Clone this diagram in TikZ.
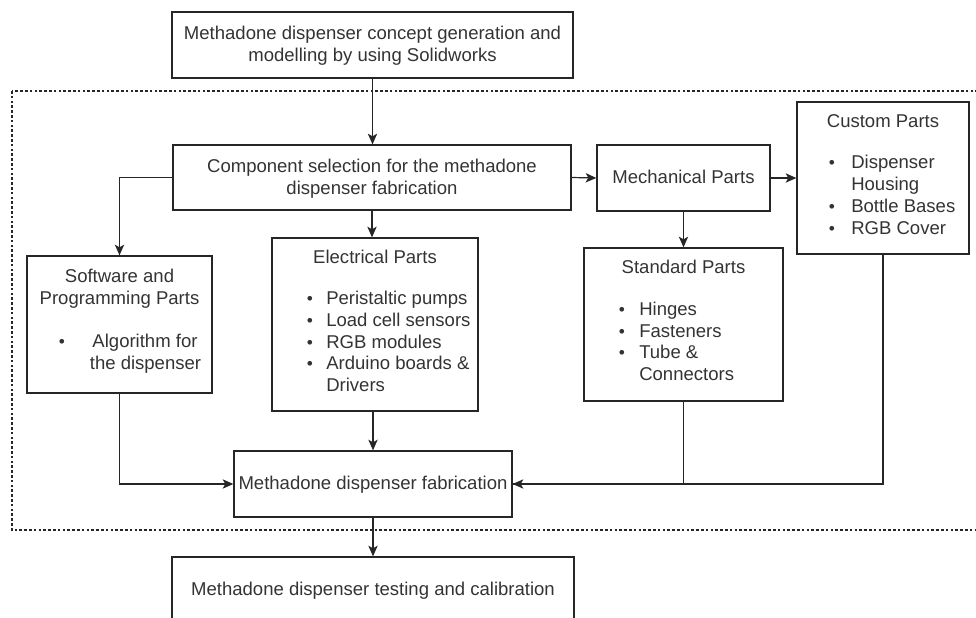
\documentclass[tikz,border=0pt]{standalone}
\usepackage{fontspec}
\setmainfont{Liberation Sans}
\usetikzlibrary{fit,arrows.meta}
\begin{document}
\begin{tikzpicture}[x=0.75pt,y=-0.75pt,
  box/.style={draw=black!85, line width=1pt, inner sep=0pt},
  txt/.style={inner sep=0pt, yshift=-1.5pt, font=\fontsize{13.9}{16.6}\selectfont, text=black!80},
  lbl/.style={txt, anchor=mid},
  item/.style={txt, anchor=mid west},
  dot/.style={txt, anchor=mid, font=\fontsize{13}{15}\selectfont},
  conn/.style={draw=black!85, line width=0.9pt},
  arr/.style={conn, -{Stealth[length=8pt,width=7pt,inset=2pt]}},
  frame/.style={draw=black!85, line width=0.9pt, dash pattern=on 2pt off 1.6pt}
]
\clip (0,0) rectangle (976,618);

% dotted boundary of the fabrication stage
\draw[frame] (12,91) rectangle (992,530);

% boxes
\node[box, fit={(172,12) (573,78)}]   (top)  {};
\node[box, fit={(173,145) (571,210)}] (comp) {};
\node[box, fit={(597,145) (770,211)}] (mech) {};
\node[box, fit={(797,102) (969,254)}] (cust) {};
\node[box, fit={(584,248) (783,401)}] (std)  {};
\node[box, fit={(27,256) (212,393)}]  (soft) {};
\node[box, fit={(272,238) (478,411)}] (elec) {};
\node[box, fit={(234,451) (512,517)}] (fab)  {};
\node[box, fit={(172,557) (574,640)}] (test) {};

% box texts
\node[lbl] (topA) at (372.5,34) {Methadone dispenser concept generation and};
\node[lbl] (topB) at (372.5,56) {modelling by using Solidworks};

\node[lbl] (compA) at (372,167) {Component selection for the methadone};
\node[lbl] (compB) at (372,189) {dispenser fabrication};

\node[lbl] (mechA) at (683.5,178) {Mechanical Parts};

\node[lbl] (custA) at (883,122) {Custom Parts};
\node[dot] (custD1) at (832,163) {\textbullet};
\node[item] (custI1) at (851,163) {Dispenser};
\node[item] (custI2) at (851,185) {Housing};
\node[dot] (custD3) at (832,207) {\textbullet};
\node[item] (custI3) at (851,207) {Bottle Bases};
\node[dot] (custD4) at (832,229) {\textbullet};
\node[item] (custI4) at (851,229) {RGB Cover};

\node[lbl] (stdA) at (683.5,268) {Standard Parts};
\node[dot] (stdD1) at (622,310) {\textbullet};
\node[item] (stdI1) at (639,310) {Hinges};
\node[dot] (stdD2) at (622,332) {\textbullet};
\node[item] (stdI2) at (639,332) {Fasteners};
\node[dot] (stdD3) at (622,353) {\textbullet};
\node[item] (stdI3) at (639,353) {Tube \&};
\node[item] (stdI4) at (639,375) {Connectors};

\node[lbl] (elecA) at (375,258) {Electrical Parts};
\node[dot] (elecD1) at (310,299) {\textbullet};
\node[item] (elecI1) at (326,299) {Peristaltic pumps};
\node[dot] (elecD2) at (310,321) {\textbullet};
\node[item] (elecI2) at (326,321) {Load cell sensors};
\node[dot] (elecD3) at (310,343) {\textbullet};
\node[item] (elecI3) at (326,343) {RGB modules};
\node[dot] (elecD4) at (310,364) {\textbullet};
\node[item] (elecI4) at (326,364) {Arduino boards \&};
\node[item] (elecI5) at (326,386) {Drivers};

\node[lbl] (softA) at (119.5,277) {Software and};
\node[lbl] (softB) at (119.5,299) {Programming Parts};
\node[dot] (softD1) at (62,342) {\textbullet};
\node[lbl] (softI1) at (145,342) {Algorithm for};
\node[lbl] (softI2) at (145.5,364) {the dispenser};

\node[lbl] (fabA) at (373,484) {Methadone dispenser fabrication};
\node[lbl] (testA) at (373,590) {Methadone dispenser testing and calibration};

% connectors
\draw[arr] (top.south) -- (top.south |- comp.north);
\draw[arr] (comp.east) -- (mech.west);
\draw[arr] (mech.east) -- (cust.west);
\draw[arr] (mech.south) -- (std.north);
\draw[arr] (comp.west) -| (soft.north);
\draw[arr] (comp.south) -- (comp.south |- elec.north);
\draw[arr] (elec.south -| fab.north) -- (fab.north);
\draw[arr] (soft.south) |- (fab.west);
\draw[conn] (std.south) |- (fab.east);
\draw[arr] (cust.south) |- (fab.east);
\draw[arr] (fab.south) -- (test.north);
\end{tikzpicture}
\end{document}
